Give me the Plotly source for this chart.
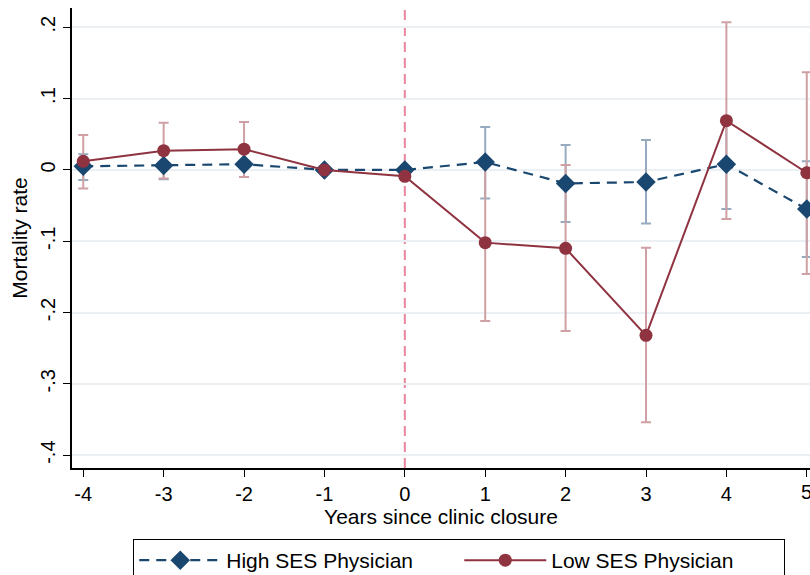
import plotly.graph_objects as go

years = [-4, -3, -2, -1, 0, 1, 2, 3, 4, 5]
xtick_text = ["-4", "-3", "-2", "-1", "0", "1", "2", "3", "4", ""]

high_est = [0.005, 0.006, 0.008, 0.0, 0.0, 0.011, -0.019, -0.017, 0.008, -0.055]
high_lo = [-0.014, -0.013, -0.010, None, None, -0.040, -0.073, -0.075, -0.055, -0.122]
high_hi = [0.022, 0.024, 0.025, None, None, 0.060, 0.035, 0.042, 0.071, 0.012]

low_est = [0.012, 0.027, 0.029, 0.0, -0.009, -0.102, -0.110, -0.232, 0.069, -0.004]
low_lo = [-0.026, -0.012, -0.010, None, None, -0.212, -0.226, -0.354, -0.069, -0.146]
low_hi = [0.049, 0.066, 0.067, None, None, 0.007, 0.007, -0.109, 0.207, 0.137]

ytick_vals = [-0.4, -0.3, -0.2, -0.1, 0, 0.1, 0.2]
ytick_text = ["-.4", "-.3", "-.2", "-.1", "0", ".1", ".2"]

NAVY = "#1a476f"
MAROON = "#8f3340"
NAVY_CI = "#97abc0"
MAROON_CI = "#cfa0a4"
PINK = "#e8879c"
FONT = "Liberation Sans, Arial, sans-serif"


def plus(hi, est):
    return [None if h is None else h - e for h, e in zip(hi, est)]


def minus(lo, est):
    return [None if l is None else e - l for l, e in zip(lo, est)]


fig = go.Figure()

fig.add_trace(go.Scatter(
    x=years, y=high_est, mode="markers", showlegend=False, hoverinfo="skip",
    marker=dict(size=1, opacity=0),
    error_y=dict(type="data", symmetric=False, array=plus(high_hi, high_est),
                 arrayminus=minus(high_lo, high_est), color=NAVY_CI,
                 thickness=2, width=5),
))
fig.add_trace(go.Scatter(
    x=years, y=low_est, mode="markers", showlegend=False, hoverinfo="skip",
    marker=dict(size=1, opacity=0),
    error_y=dict(type="data", symmetric=False, array=plus(low_hi, low_est),
                 arrayminus=minus(low_lo, low_est), color=MAROON_CI,
                 thickness=2, width=5),
))
fig.add_trace(go.Scatter(
    x=years, y=high_est, mode="lines+markers", name="High SES Physician",
    line=dict(color=NAVY, width=2.2, dash="10px,7px"),
    marker=dict(symbol="diamond", size=15, color=NAVY),
))
fig.add_trace(go.Scatter(
    x=years, y=low_est, mode="lines+markers", name="Low SES Physician",
    line=dict(color=MAROON, width=2),
    marker=dict(symbol="circle", size=13, color=MAROON),
))

fig.add_shape(type="line", xref="paper", yref="y", x0=0, x1=1, y0=0, y1=0,
              line=dict(color=PINK, width=2), layer="below")
fig.add_shape(type="line", xref="x", yref="paper", x0=0, x1=0, y0=0, y1=1,
              line=dict(color=PINK, width=2, dash="10px,6px"), layer="below")

# last x tick label, partially cut at the right edge as in the reference
fig.add_annotation(x=years[-1], xref="x", y=0, yref="paper", yanchor="top",
                   yshift=-11, text="5", showarrow=False,
                   font=dict(family=FONT, size=20, color="black"))

fig.update_layout(
    width=810, height=575,
    margin=dict(l=72, r=0, t=8, b=107, autoexpand=False),
    paper_bgcolor="white", plot_bgcolor="white",
    font=dict(family=FONT, size=20, color="black"),
    legend=dict(orientation="h", x=0.083, xanchor="left", y=-0.1545, yanchor="top",
                bordercolor="black", borderwidth=1, font=dict(size=21),
                entrywidth=228, itemwidth=82),
)
fig.update_xaxes(
    range=[-4.14, 5.04], tickvals=years, ticktext=xtick_text, showgrid=False,
    zeroline=False, automargin=False,
    showline=True, linecolor="black", linewidth=1.5, ticks="outside",
    ticklen=7, tickcolor="black", tickwidth=1.2, tickfont=dict(size=20),
    title=dict(text="Years since clinic closure", font=dict(size=21), standoff=2),
)
fig.update_yaxes(
    range=[-0.418, 0.227], tickvals=ytick_vals, ticktext=ytick_text,
    tickangle=-90, showgrid=True, gridcolor="#eaf0f3", gridwidth=1.5,
    zeroline=False, showline=True, linecolor="black", linewidth=1.5,
    automargin=False,
    ticks="outside", ticklen=7, tickcolor="black", tickwidth=1.2,
    tickfont=dict(size=20),
    title=dict(text="Mortality rate", font=dict(size=21), standoff=4),
)

fig.write_html("out.html")
